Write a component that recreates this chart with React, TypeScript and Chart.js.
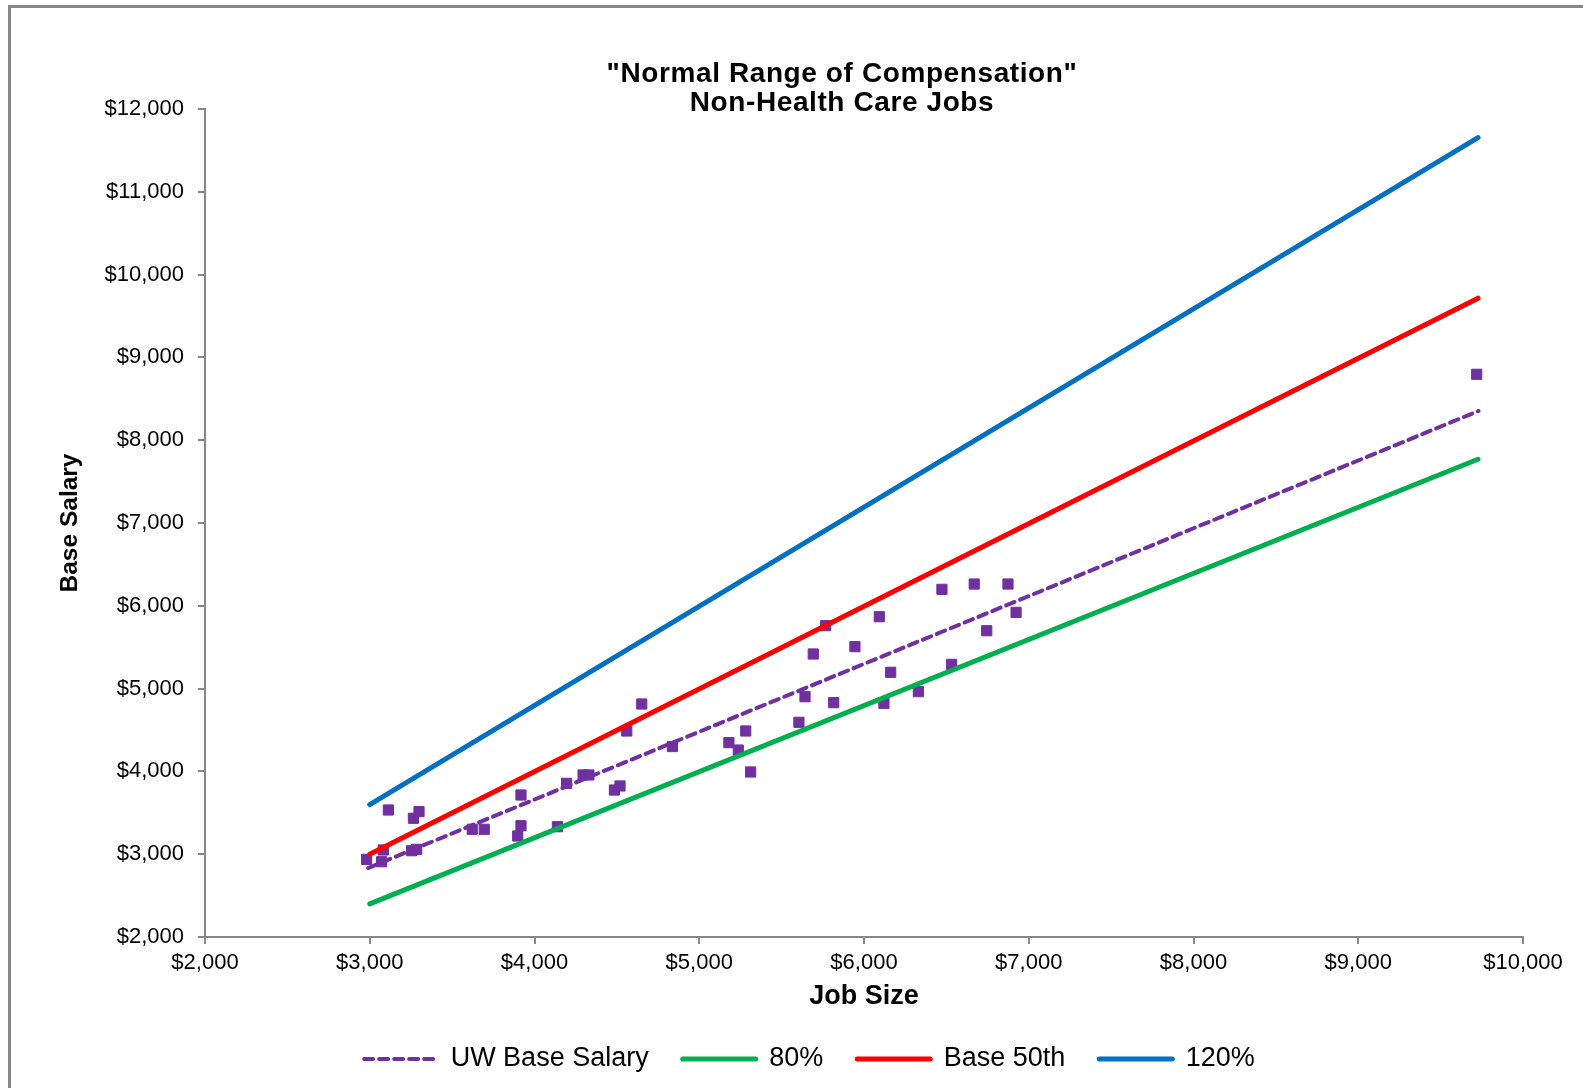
import React, { useEffect, useRef } from "react";
import { Chart, registerables } from "chart.js";

Chart.register(...registerables);

const FONT = "'Liberation Sans', Arial, Helvetica, sans-serif";

// Chart text
const titleLines = ['"Normal Range of Compensation"', "Non-Health Care Jobs"];
const xAxisTitle = "Job Size";
const yAxisTitle = "Base Salary";
const seriesLabels = ["UW Base Salary", "80%", "Base 50th", "120%"];

// Axis ranges
const xMin = 2000;
const xMax = 10000;
const yMin = 2000;
const yMax = 12000;
const tickStep = 1000;

// Individual jobs: job size vs. UW base salary
const jobSize = [
  2981, 3072, 3082, 3113, 3254, 3285, 3265, 3299, 3622, 3695, 3898, 3918, 3918, 4139,
  4195, 4295, 4330, 4485, 4519, 4560, 4651, 4837, 5180, 5237, 5282, 5312, 5605, 5642,
  5692, 5767, 5816, 5945, 6093, 6121, 6162, 6330, 6473, 6532, 6669, 6745, 6874, 6923,
  9719,
];
const baseSalary = [
  2938, 2909, 3051, 3534, 3042, 3059, 3434, 3514, 3301, 3301, 3220, 3344, 3715, 3332,
  3856, 3957, 3957, 3775, 3824, 4488, 4814, 4300, 4347, 4258, 4488, 3993, 4593, 4902,
  5418, 5760, 4830, 5506, 5868, 4822, 5197, 4963, 6199, 5293, 6263, 5699, 6263, 5921,
  8796,
];

// Linear trend of UW base salary
const trendJobSize = [2990, 9730];
const trendSalary = [2833, 8353];

// Market range lines
const rangeJobSize = [3000, 9727];
const pct80 = [2400, 7770];
const base50 = [3000, 9715];
const pct120 = [3600, 11655];

const PURPLE = "#7030A0";
const GREEN = "#00B050";
const RED = "#FF0000";
const BLUE = "#0070C0";
const AXIS_GRAY = "#878787";

const toPoints = (xs: number[], ys: number[]) => xs.map((x, i) => ({ x, y: ys[i] }));
const money = (v: number) => "$" + Number(v).toLocaleString("en-US");

// Two-line bold heading above the plot
const titlePlugin = {
  id: "twoLineTitle",
  afterDraw(chart: any) {
    const { ctx } = chart;
    ctx.save();
    ctx.fillStyle = "#000";
    ctx.font = `bold 28px ${FONT}`;
    (ctx as any).letterSpacing = "0.6px";
    ctx.textAlign = "center";
    ctx.textBaseline = "middle";
    ctx.fillText(titleLines[0], 842, 74.5);
    ctx.fillText(titleLines[1], 842, 103);
    ctx.restore();
  },
};

// Legend sits a little right of the page centre
const legendOffsetPlugin = {
  id: "legendOffset",
  afterLayout(chart: any) {
    if (chart.legend) chart.legend.left = 96;
  },
};

export default function App() {
  const canvasRef = useRef<HTMLCanvasElement | null>(null);

  useEffect(() => {
    if (!canvasRef.current) return;
    const lineDataset = (
      label: string,
      xs: number[],
      ys: number[],
      color: string,
      width: number,
      dash: number[] = []
    ) => ({
      type: "scatter" as const,
      label,
      data: toPoints(xs, ys),
      showLine: true,
      borderColor: color,
      backgroundColor: color,
      borderWidth: width,
      borderDash: dash,
      borderCapStyle: "round" as const,
      pointRadius: 0,
      pointHoverRadius: 0,
      order: 1,
    });

    const chart = new Chart(canvasRef.current, {
      type: "scatter",
      data: {
        datasets: [
          {
            label: "UW Base Salary",
            data: toPoints(jobSize, baseSalary),
            showLine: false,
            pointStyle: "rect",
            pointRadius: 7.2,
            pointBorderWidth: 1,
            backgroundColor: PURPLE,
            borderColor: PURPLE,
            order: 10,
          } as any,
          lineDataset(seriesLabels[0], trendJobSize, trendSalary, PURPLE, 4, [9, 6]),
          lineDataset(seriesLabels[1], rangeJobSize, pct80, GREEN, 5),
          lineDataset(seriesLabels[2], rangeJobSize, base50, RED, 5),
          lineDataset(seriesLabels[3], rangeJobSize, pct120, BLUE, 5),
        ],
      },
      options: {
        responsive: false,
        animation: false,
        layout: { padding: { left: 0, right: 60, top: 109, bottom: 5.5 } },
        plugins: {
          title: { display: false },
          tooltip: { enabled: false },
          legend: {
            position: "bottom",
            labels: {
              generateLabels: (c: any) =>
                c.data.datasets.map((ds: any, i: number) => ({
                  text: ds.label,
                  datasetIndex: i,
                  fillStyle: ds.borderColor,
                  strokeStyle: ds.borderColor,
                  lineWidth: ds.borderWidth,
                  lineDash: ds.borderDash || [],
                  lineCap: "round",
                  pointStyle: "line",
                  hidden: false,
                  fontColor: "#000",
                })),
              filter: (item: any) => item.datasetIndex !== 0,
              usePointStyle: true,
              pointStyle: "line",
              pointStyleWidth: 73,
              padding: 34,
              color: "#000",
              font: { family: FONT, size: 27 },
            },
          },
        },
        scales: {
          x: {
            type: "linear",
            min: xMin,
            max: xMax,
            afterFit: (scale: any) => {
              scale.height = 74.5;
            },
            ticks: {
              stepSize: tickStep,
              padding: 6,
              color: "#000",
              font: { family: FONT, size: 22 },
              maxRotation: 0,
              callback: (v: any) => money(v),
            },
            grid: {
              drawOnChartArea: false,
              drawTicks: true,
              tickLength: 7,
              color: AXIS_GRAY,
              lineWidth: 2,
            },
            border: { color: AXIS_GRAY, width: 2 },
            title: {
              display: true,
              text: xAxisTitle,
              color: "#000",
              font: { family: FONT, size: 27, weight: "bold" },
              padding: { top: 0, bottom: -1.5 },
            },
          },
          y: {
            type: "linear",
            min: yMin,
            max: yMax,
            afterFit: (scale: any) => {
              scale.width = 205;
            },
            ticks: {
              stepSize: tickStep,
              padding: 14,
              color: "#000",
              font: { family: FONT, size: 22 },
              callback: (v: any) => money(v),
            },
            grid: {
              drawOnChartArea: false,
              drawTicks: true,
              tickLength: 7,
              color: AXIS_GRAY,
              lineWidth: 2,
            },
            border: { color: AXIS_GRAY, width: 2 },
            title: {
              display: true,
              text: yAxisTitle,
              color: "#000",
              font: { family: FONT, size: 24.5, weight: "bold" },
              padding: { top: 55.5, bottom: 0 },
            },
          },
        },
      } as any,
      plugins: [titlePlugin, legendOffsetPlugin],
    });
    return () => chart.destroy();
  }, []);

  return (
    <div
      style={{
        position: "fixed",
        left: 0,
        top: 0,
        width: 1583,
        height: 1088,
        overflow: "hidden",
        background: "#fff",
      }}
    >
      <div
        style={{
          position: "absolute",
          left: 8,
          top: 5,
          width: 1600,
          height: 1110,
          borderLeft: `3px solid ${AXIS_GRAY}`,
          borderTop: `3px solid ${AXIS_GRAY}`,
          boxSizing: "border-box",
        }}
      />
      <canvas
        ref={canvasRef}
        width={1583}
        height={1088}
        style={{ position: "absolute", left: 0, top: 0, display: "block" }}
      />
    </div>
  );
}
